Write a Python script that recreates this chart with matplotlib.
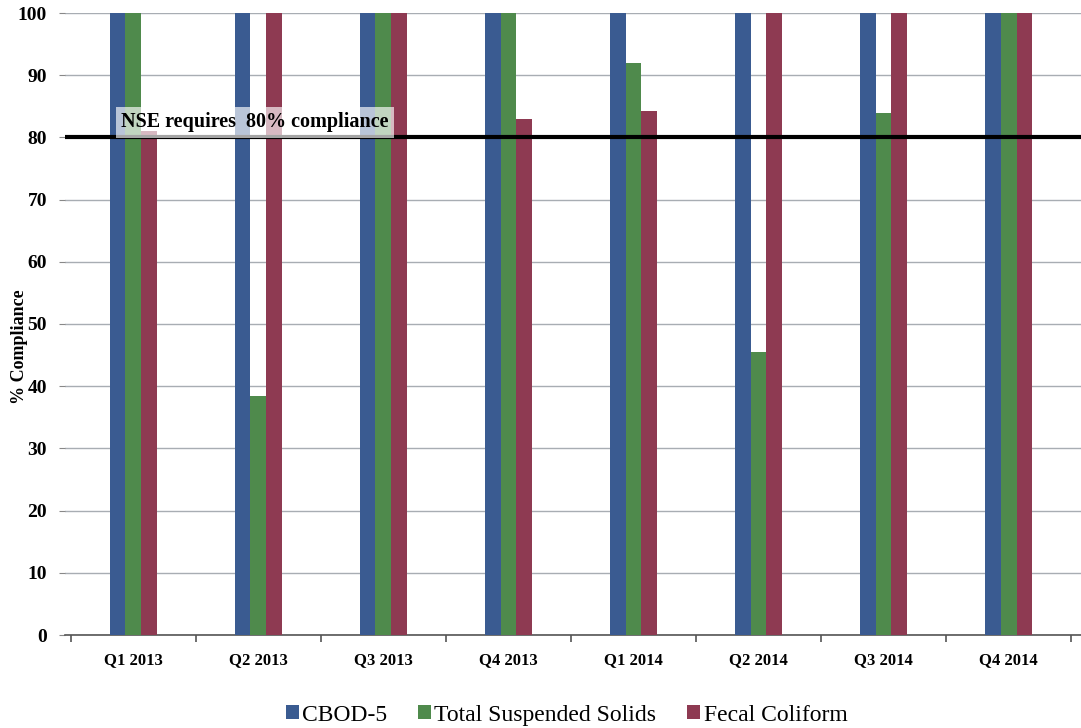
import numpy as np
import matplotlib
matplotlib.use("Agg")
import matplotlib.pyplot as plt
from matplotlib.patches import Patch

quarters = ["Q1 2013", "Q2 2013", "Q3 2013", "Q4 2013",
            "Q1 2014", "Q2 2014", "Q3 2014", "Q4 2014"]
cbod5 = [100, 100, 100, 100, 100, 100, 100, 100]
tss = [100, 38.5, 100, 100, 92, 45.5, 84, 100]
fecal = [81, 100, 100, 83, 84.3, 100, 100, 100]
series_names = ["CBOD-5", "Total Suspended Solids", "Fecal Coliform"]
requirement = 80
yticks = list(range(0, 101, 10))

colors = ["#3a5b91", "#4f8a4c", "#8e3a52"]
serif = ["Liberation Serif", "DejaVu Serif"]

fig = plt.figure(figsize=(10.81, 7.28), dpi=100)
ax = fig.add_axes([65 / 1081, 93 / 728, 1016 / 1081, 622 / 728])

x = np.arange(len(quarters))
w = 0.125
for i, (vals, c) in enumerate(zip([cbod5, tss, fecal], colors)):
    ax.bar(x + (i - 1) * w, vals, width=w, color=c, zorder=3)

ax.set_xlim(-0.544, 7.578)
ax.set_ylim(0, 100)
ax.set_yticks(yticks)
ax.yaxis.grid(True, color="#a8adb3", linewidth=1.0, zorder=0)
ax.set_axisbelow(True)

for s in ["top", "right", "left"]:
    ax.spines[s].set_visible(False)
ax.spines["bottom"].set_color("#555555")
ax.spines["bottom"].set_linewidth(1.2)

ax.set_xticks(x)
ax.set_xticklabels(quarters, fontfamily=serif, fontweight="bold", fontsize=12)
ax.set_xticks(np.arange(-0.5, len(quarters), 1.0), minor=True)
ax.tick_params(axis="x", which="major", length=0, pad=12)
ax.tick_params(axis="x", which="minor", length=5, color="#555555", width=1.2)
ax.tick_params(axis="y", length=4, color="#888888", pad=9)
for lab in ax.get_yticklabels():
    lab.set_fontfamily(serif)
    lab.set_fontweight("bold")
    lab.set_fontsize(14)

ax.set_ylabel("% Compliance", fontfamily=serif, fontweight="bold", fontsize=13)
ax.yaxis.set_label_coords(-0.036, 0.463)

# Regulatory threshold
ax.axhline(requirement, color="black", linewidth=3, zorder=5)
ax.text(-0.095, 82.4, "NSE requires  80% compliance", fontfamily=serif,
        fontweight="bold", fontsize=14.5, ha="left", va="center", zorder=6,
        bbox=dict(facecolor="white", alpha=0.65, edgecolor="none", pad=4))

handles = [Patch(facecolor=c, edgecolor="none") for c in colors]
fig.legend(handles, series_names, loc="lower center", bbox_to_anchor=(0.524, -0.026),
           ncol=3, frameon=False, prop={"family": serif, "size": 17},
           handlelength=0.55, handleheight=0.55, handletextpad=0.15, columnspacing=1.3)

fig.savefig("out.png", dpi=100)
